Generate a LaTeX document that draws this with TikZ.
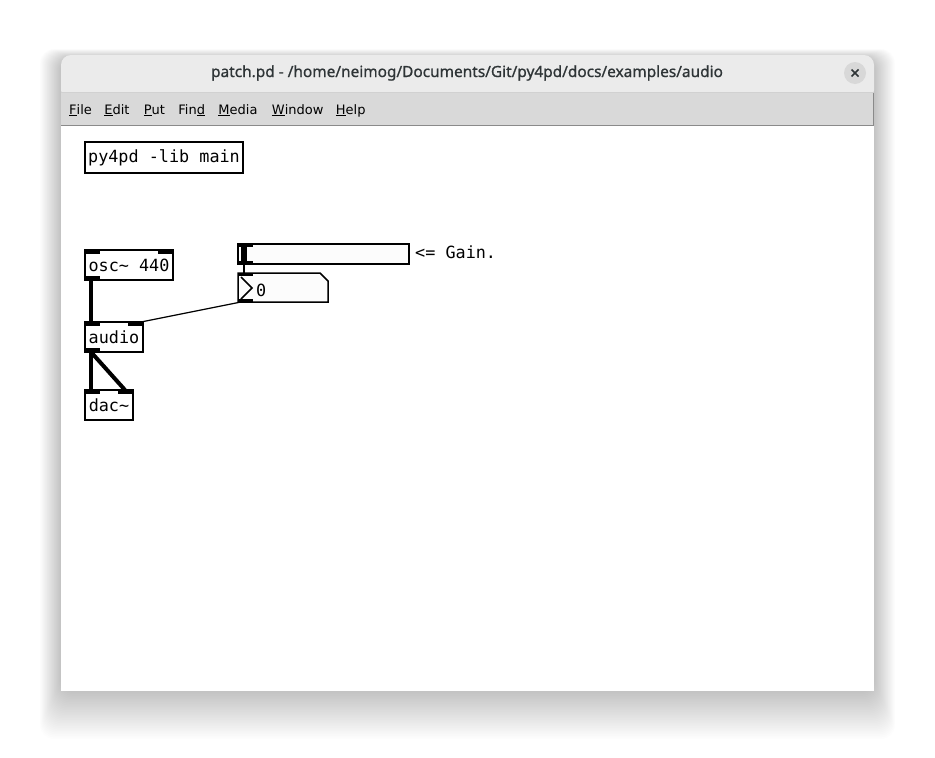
\documentclass[tikz,border=0pt]{standalone}
\usepackage{fontspec}
\usetikzlibrary{positioning}
\newfontfamily\pdfont{DejaVu Sans Mono}
\newfontfamily\menufont{DejaVu Sans}
\newfontfamily\titlefont[FakeBold=0.9]{Noto Sans}
\definecolor{titlebg}{HTML}{EBEBEB}
\definecolor{menubg}{HTML}{D9D9D9}
\definecolor{menuline}{HTML}{8A8A8A}
\definecolor{closebg}{HTML}{D8D8D8}
\definecolor{sliderbg}{HTML}{FCFCFC}
\definecolor{titletext}{HTML}{2E3436}
\tikzset{
  pdbox/.style={draw, line width=1.5pt, anchor=north west, inner sep=0pt, outer sep=0pt,
    font=\pdfont\fontsize{16.8}{18}\selectfont},
  pdtext/.style={inner sep=0pt, font=\pdfont\fontsize{16.8}{18}\selectfont},
  menuitem/.style={inner sep=0pt, font=\menufont\fontsize{13}{15}\selectfont},
  sigcord/.style={line width=4pt},
  ctlcord/.style={line width=1.2pt}
}
\begin{document}
\begin{tikzpicture}[x=1pt,y=-1pt]
\useasboundingbox (0,0) rectangle (935,758);
% shadow
\foreach \i in {1,...,30}
  \fill[black, opacity=0.007, rounded corners=14pt] (61-0.7*\i,58-0.3*\i) rectangle (874+0.7*\i,691+1.6*\i);
% window
\fill[titlebg, rounded corners=10pt] (61,55) rectangle (874,100);
\fill[white] (61,92) rectangle (874,691);
\fill[menubg] (61,93) rectangle (874,125);
\draw[white!82!black] (61,92.5) -- (874,92.5);
\draw[menuline] (61,125) -- (874,125);
\draw[menuline] (873.5,93) -- (873.5,125);
\node[font=\titlefont\fontsize{15.4}{18}\selectfont, text=titletext] (title) at (467,73) {patch.pd - /home/neimog/Documents/Git/py4pd/docs/examples/audio};
\node[circle, fill=closebg, minimum size=22pt, inner sep=0pt] (close) at (855,73) {};
\draw[line width=1.6pt, titletext] ([shift={(-3.5pt,-3.5pt)}]close.center) -- ([shift={(3.5pt,3.5pt)}]close.center);
\draw[line width=1.6pt, titletext] ([shift={(-3.5pt,3.5pt)}]close.center) -- ([shift={(3.5pt,-3.5pt)}]close.center);
% menu
\node[menuitem, anchor=base west] (file) at (69,114) {\underline{F}ile};
\node[menuitem, base right=12pt of file] (edit) {\underline{E}dit};
\node[menuitem, base right=14pt of edit] (put) {\underline{P}ut};
\node[menuitem, base right=13pt of put] (find) {Fin\underline{d}};
\node[menuitem, base right=13pt of find] (media) {\underline{M}edia};
\node[menuitem, base right=14pt of media] (window) {\underline{W}indow};
\node[menuitem, base right=12pt of window] (help) {\underline{H}elp};
% patch
\node[pdbox, minimum width=158, minimum height=31] (lib) at (85,142) {py4pd -lib main};
\node[pdbox, minimum width=88, minimum height=30] (osc) at (85,250) {osc\char"7E{} 440};
\node[pdbox, minimum width=58, minimum height=30] (audio) at (85,322) {audio};
\node[pdbox, minimum width=48, minimum height=30] (dac) at (85,390) {dac\char"7E};
\node[pdbox, fill=sliderbg, minimum width=171, minimum height=20] (gain) at (238,244) {};
\node[pdtext, anchor=west] (gainlabel) at (415,252) {<= Gain.};
\node[anchor=north west, inner sep=0pt, outer sep=0pt, minimum width=90, minimum height=29] (num) at (238,273) {};
\draw[line width=1.5pt, fill=sliderbg] (num.north west) -- ([xshift=-8pt]num.north east) -- ([yshift=-8pt]num.north east) -- (num.south east) -- (num.south west) -- cycle;
\draw[line width=1.5pt] ([shift={(3pt,-4pt)}]num.north west) -- ([shift={(14pt,-15pt)}]num.north west) -- ([shift={(3pt,-26pt)}]num.north west);
\node[pdtext, anchor=west] (zero) at (256,290) {0};
% inlets and outlets
\fill (osc.north west) rectangle ++(15,4);
\fill (osc.north east) rectangle ++(-15,4);
\fill (osc.south west) rectangle ++(15,-4);
\fill (audio.north west) rectangle ++(15,4);
\fill (audio.north east) rectangle ++(-15,4);
\fill (audio.south west) rectangle ++(15,-4);
\fill (dac.north west) rectangle ++(15,4);
\fill (dac.north east) rectangle ++(-15,4);
\fill (gain.north west) rectangle ++(15,3);
\fill (gain.south west) rectangle ++(15,-3);
\fill ([shift={(3pt,-2pt)}]gain.north west) rectangle ++(6,16);
\fill (num.north west) rectangle ++(15,3);
\fill (num.south west) rectangle ++(15,-3);
% cords
\draw[sigcord] ([xshift=6pt]osc.south west) -- ([xshift=6pt]audio.north west);
\draw[sigcord] ([xshift=6pt]audio.south west) -- ([xshift=6pt]dac.north west);
\draw[sigcord] ([xshift=6pt]audio.south west) -- ([xshift=-8pt]dac.north east);
\draw[ctlcord] ([xshift=6pt]gain.south west) -- ([xshift=6pt]num.north west);
\draw[ctlcord] ([xshift=3pt]num.south west) -- ([xshift=-2pt]audio.north east);
\end{tikzpicture}
\end{document}
